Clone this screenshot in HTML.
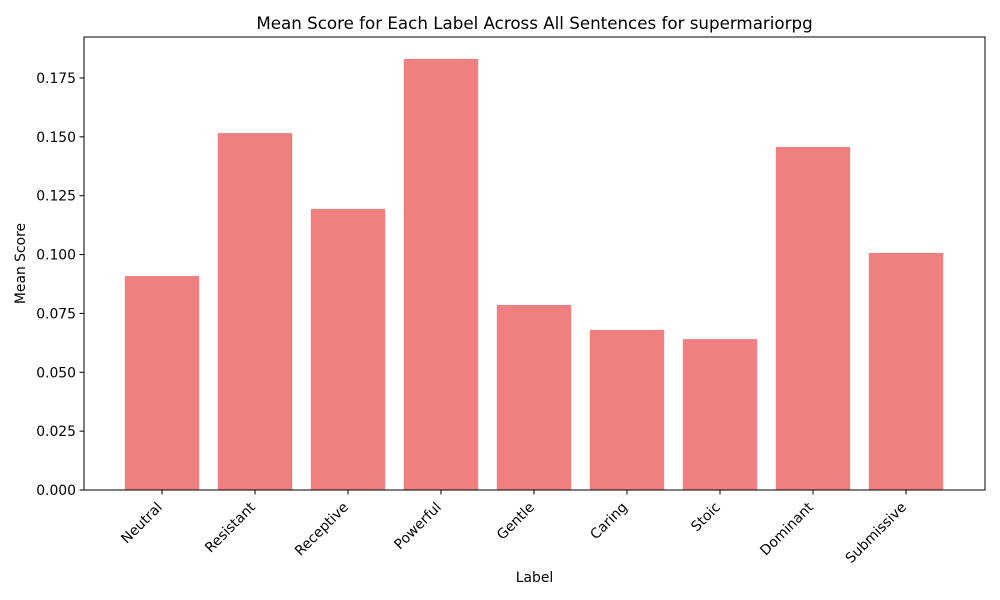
<!DOCTYPE html>
<html><head><meta charset="utf-8"><style>
body{margin:0;background:#fff;}
svg{display:block;font-family:"DejaVu Sans","Liberation Sans",sans-serif;}
</style></head><body>
<svg id="chart" width="1000" height="600" viewBox="0 0 1000 600">
<rect width="1000" height="600" fill="#fff"/>
<text x="534.5" y="29" text-anchor="middle" font-size="16.7">Mean Score for Each Label Across All Sentences for supermariorpg</text>
<g id="bars"></g>
<g id="yaxis"></g>
<g id="xaxis"></g>
<rect x="84" y="37" width="901" height="453" fill="none" stroke="#000" stroke-width="1"/>
<text x="534.5" y="582" text-anchor="middle" font-size="13.9">Label</text>
<text transform="translate(25,263.5) rotate(-90)" text-anchor="middle" font-size="13.9">Mean Score</text>
</svg>
<script>
const categories=["Neutral","Resistant","Receptive","Powerful","Gentle","Caring","Stoic","Dominant","Submissive"];
const values=[0.0909,0.1516,0.1194,0.1831,0.0786,0.0680,0.0641,0.1457,0.1007];
const yTicks=[0,0.025,0.05,0.075,0.1,0.125,0.15,0.175];
const NS="http://www.w3.org/2000/svg";
function y(v){return 490-v/0.025*58.86;}
function x(i){return 162+i*93;}
const bw=74.4;
const bars=document.getElementById('bars'),ya=document.getElementById('yaxis'),xa=document.getElementById('xaxis');
function mk(t,a,p){const e=document.createElementNS(NS,t);for(const k in a)e.setAttribute(k,a[k]);p.appendChild(e);return e;}
values.forEach((v,i)=>{
 const r=mk('rect',{x:x(i)-bw/2,y:y(v),width:bw,height:490-y(v),fill:'#f08080'},bars);
 
 
 const t=mk('line',{x1:x(i),x2:x(i),y1:490,y2:494.5,stroke:'#000'},xa);
 
 
 const l=mk('text',{'font-size':13.9,'text-anchor':'end',transform:`translate(${x(i)+1},${508}) rotate(-45)`},xa);
 l.textContent=categories[i];
 
 
});
yTicks.forEach(v=>{
 const t=mk('line',{x1:79.5,x2:84,y1:y(v),y2:y(v),stroke:'#000'},ya);
 
 
 const l=mk('text',{x:76,y:y(v)+5,'font-size':13.9,'text-anchor':'end'},ya);
 l.textContent=v.toFixed(3);
 
 
});
</script>
</body></html>
